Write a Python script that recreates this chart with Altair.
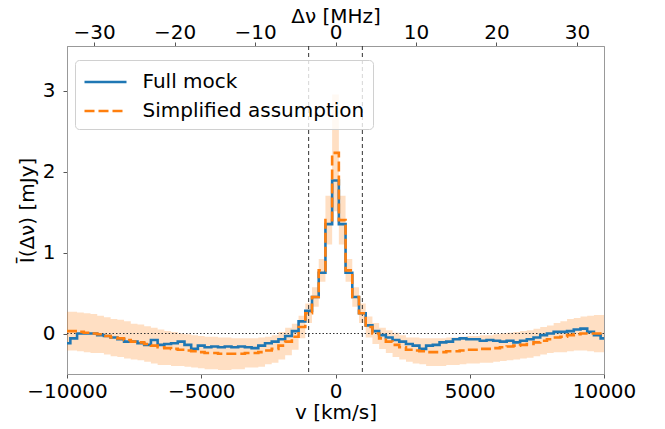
import altair as alt
import pandas as pd

# velocity bin centres [km/s]
velocity = list(range(-10000, 10001, 250))

full_mock = [
    -0.12, -0.06, 0.0, 0.0, 0.0, -0.02, -0.03, -0.05, -0.07, -0.1,
    -0.1, -0.12, -0.14, -0.08, -0.14, -0.13, -0.12, -0.1, -0.14, -0.19,
    -0.15, -0.17, -0.16, -0.17, -0.16, -0.17, -0.16, -0.17, -0.18, -0.15,
    -0.12, -0.1, -0.07, -0.03, 0.03, 0.15, 0.28, 0.45, 0.75, 1.35,
    1.89,
    1.35, 0.75, 0.45, 0.25, 0.1, 0.03, -0.02, -0.05, -0.08, -0.1,
    -0.13, -0.15, -0.19, -0.15, -0.14, -0.11, -0.1, -0.07, -0.06, -0.07,
    -0.07, -0.09, -0.08, -0.09, -0.1, -0.09, -0.11, -0.09, -0.07, -0.05,
    -0.02, 0.0, 0.02, 0.02, 0.03, 0.05, 0.06, 0.02, -0.02, -0.06,
]

simplified = [
    0.03, 0.03, 0.02, 0.01, 0.0, -0.01, -0.03, -0.05, -0.06, -0.08,
    -0.1, -0.11, -0.13, -0.15, -0.17, -0.18, -0.19, -0.2, -0.21, -0.22,
    -0.23, -0.24, -0.24, -0.25, -0.25, -0.25, -0.25, -0.24, -0.24, -0.23,
    -0.21, -0.19, -0.15, -0.1, -0.04, 0.08, 0.25, 0.45, 0.78, 1.4,
    2.23,
    1.4, 0.78, 0.45, 0.25, 0.08, 0.0, -0.06, -0.1, -0.14, -0.17,
    -0.2, -0.21, -0.22, -0.23, -0.23, -0.23, -0.22, -0.22, -0.21, -0.2,
    -0.2, -0.19, -0.19, -0.18, -0.17, -0.16, -0.15, -0.14, -0.13, -0.11,
    -0.09, -0.07, -0.05, -0.04, -0.02, -0.01, 0.0, 0.0, 0.0, 0.0,
]

# half-width of the shaded band around the simplified curve
band_sigma = [
    0.24, 0.24, 0.24, 0.24, 0.24,
    0.23, 0.23, 0.23, 0.23, 0.23,
    0.22, 0.22, 0.22, 0.22, 0.22,
    0.21, 0.21, 0.2, 0.2, 0.2, 0.2, 0.2, 0.2, 0.2, 0.2,
    0.19, 0.19, 0.18, 0.18, 0.18, 0.17, 0.17, 0.17,
    0.17, 0.16, 0.14,
    0.12, 0.12, 0.14,
    0.3, 0.72, 0.3,
    0.14, 0.12, 0.12,
    0.13, 0.13, 0.13,
    0.14, 0.15, 0.15, 0.15, 0.16, 0.16, 0.17, 0.17,
    0.17, 0.17, 0.17, 0.17, 0.17, 0.17, 0.17, 0.17, 0.17,
    0.17, 0.17, 0.17, 0.17, 0.17, 0.17, 0.17, 0.17,
    0.18, 0.19, 0.2, 0.2, 0.21, 0.22, 0.23, 0.23,
]

series_names = ["Full mock", "Simplified assumption"]
series_colors = ["#1f77b4", "#ff7f0e"]
vlines_kms = [-1000, 1000]
x_ticks = [-10000, -5000, 0, 5000, 10000]
y_ticks = [0, 1, 2, 3]
top_ticks_mhz = [-30, -20, -10, 0, 10, 20, 30]
mhz_range = [-33.356, 33.356]

lines_df = pd.DataFrame({
    "v": velocity * 2,
    "I": full_mock + simplified,
    "series": [series_names[0]] * len(velocity) + [series_names[1]] * len(velocity),
})
band_df = pd.DataFrame({
    "v": velocity,
    "lo": [m - s for m, s in zip(simplified, band_sigma)],
    "hi": [m + s for m, s in zip(simplified, band_sigma)],
})
vline_df = pd.DataFrame({"v": vlines_kms})
zero_df = pd.DataFrame({"I": [0.0]})
top_df = pd.DataFrame({"mhz": mhz_range})

xscale = alt.Scale(domain=[-10000, 10000], nice=False, zero=False)
yscale = alt.Scale(domain=[-0.5, 3.55], nice=False, zero=False)

xaxis = alt.Axis(values=x_ticks, title="v [km/s]", format="d", titlePadding=1,
                 labelFlush=False)
yaxis = alt.Axis(values=y_ticks, title="Ī(Δν) [mJy]", format="d",
                 labelPadding=8, titlePadding=5)

band = alt.Chart(band_df).mark_area(
    interpolate="step", color="#ff7f0e", opacity=0.25, clip=True
).encode(
    x=alt.X("v:Q", scale=xscale, axis=xaxis),
    y=alt.Y("lo:Q", scale=yscale, axis=yaxis),
    y2="hi:Q",
)

lines = alt.Chart(lines_df).mark_line(
    interpolate="step", strokeWidth=2.6, clip=True
).encode(
    x=alt.X("v:Q", scale=xscale, axis=xaxis),
    y=alt.Y("I:Q", scale=yscale, axis=yaxis),
    color=alt.Color(
        "series:N",
        scale=alt.Scale(domain=series_names, range=series_colors),
        legend=alt.Legend(title=None),
    ),
    strokeDash=alt.StrokeDash(
        "series:N",
        scale=alt.Scale(domain=series_names, range=[[1, 0], [10, 4]]),
        legend=alt.Legend(title=None),
    ),
)

vrules = alt.Chart(vline_df).mark_rule(
    color="#333333", strokeWidth=1, strokeDash=[4, 3]
).encode(x=alt.X("v:Q", scale=xscale, axis=xaxis))

zrule = alt.Chart(zero_df).mark_rule(
    color="#333333", strokeWidth=1, strokeDash=[1.5, 2]
).encode(y=alt.Y("I:Q", scale=yscale, axis=yaxis))

main = alt.layer(band, vrules, zrule, lines)

top_axis = alt.Chart(top_df).mark_point(opacity=0).encode(
    x=alt.X(
        "mhz:Q",
        scale=alt.Scale(domain=mhz_range, nice=False, zero=False),
        axis=alt.Axis(orient="top", values=top_ticks_mhz, title="Δν [MHz]",
                      format="d", labelBaseline="alphabetic", labelPadding=4,
                      titlePadding=-4, labelFlush=False),
    ),
    y=alt.value(0),
)

chart = alt.layer(main, top_axis).resolve_scale(
    x="independent"
).properties(
    width=537,
    height=328,
    autosize=alt.AutoSizeParams(type="none"),
    padding={"left": 59, "top": 38, "right": 53, "bottom": 55},
).configure_view(
    stroke="#999999", strokeWidth=1
).configure_axis(
    labelFont="DejaVu Sans",
    titleFont="DejaVu Sans",
    labelFontSize=20,
    titleFontSize=20,
    labelColor="#000000",
    titleColor="#000000",
    titleFontWeight="normal",
    grid=False,
    domainColor="#999999",
    tickColor="#555555",
    tickSize=4,
    labelPadding=3,
).configure_legend(
    orient="none",
    legendX=8,
    legendY=14,
    fillColor="rgba(255,255,255,0.8)",
    strokeColor="#d0d0d0",
    cornerRadius=4,
    padding=8,
    labelFont="DejaVu Sans",
    labelFontSize=20,
    labelColor="#000000",
    symbolType="M-1.68,0H1.68",
    symbolSize=625,
    symbolStrokeWidth=2.6,
    symbolOffset=8.5,
    labelOffset=23,
    rowPadding=5,
    labelLimit=400,
)

chart.save("out.html", embed_options={"renderer": "svg", "actions": False})
